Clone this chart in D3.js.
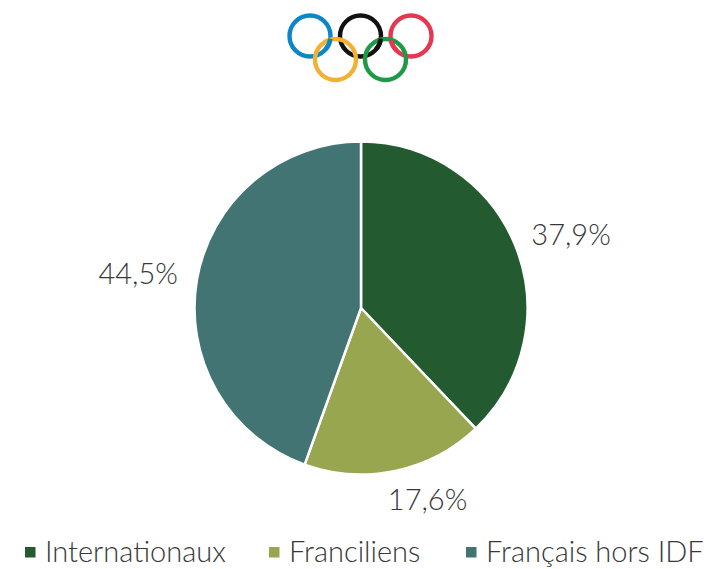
<!DOCTYPE html>
<html><head><meta charset="utf-8">
<script src="https://cdn.jsdelivr.net/npm/d3@7"></script>
<style>html,body{margin:0;padding:0;background:#fff;}svg{display:block;}</style>
</head><body>
<script>
const categories = ["Internationaux", "Franciliens", "Français hors IDF"];
const values = [37.9, 17.6, 44.5];
const valueLabels = ["37,9%", "17,6%", "44,5%"];
const colors = ["#245a2f", "#98a650", "#427473"];
const ringColors = ["#0b86c9", "#111111", "#e5374f", "#f4b033", "#1e9946"];

const W = 725, H = 569;
const svg = d3.select("body").append("svg").attr("width", W).attr("height", H);
const font = "Lato, 'Open Sans', sans-serif";
const fw = 300;
const textColor = "#383838";

// Olympic rings
const ringPos = [[310,36],[360.5,36],[411,36],[335.5,59.5],[385.5,59.5]];
const rings = svg.append("g");
rings.selectAll("circle").data(ringColors).join("circle")
  .attr("cx", (d,i)=>ringPos[i][0]).attr("cy", (d,i)=>ringPos[i][1])
  .attr("r", 20.5).attr("fill","none").attr("stroke", d=>d).attr("stroke-width", 4.4);
const arcSeg = d3.arc().innerRadius(18.3).outerRadius(22.7);
const over = [[0, 1.7, 2.3],[1, 1.7, 2.3],[2, 3.9, 4.5]];
over.forEach(([i,a0,a1])=>{
  rings.append("path").attr("d", arcSeg({startAngle:a0,endAngle:a1}))
    .attr("transform", `translate(${ringPos[i][0]},${ringPos[i][1]})`).attr("fill", ringColors[i]);
});

// Pie
const cx = 361, cy = 308, R = 166.5;
const pie = d3.pie().sort(null).value(d=>d)(values);
const arc = d3.arc().innerRadius(0).outerRadius(R);
const g = svg.append("g").attr("transform", `translate(${cx},${cy})`);
g.selectAll("path").data(pie).join("path")
  .attr("d", arc).attr("fill", (d,i)=>colors[i])
  .attr("stroke", "#fff").attr("stroke-width", 2.5).attr("stroke-linejoin","round");

// labels (outside end)
const labelR = R + 20;
const nudge = [[0,0],[20,0],[0,0]];
const fs = 29;
pie.forEach((d,i)=>{
  const a = (d.startAngle + d.endAngle)/2;
  const s = Math.sin(a), c = -Math.cos(a);
  const t = g.append("text").text(valueLabels[i])
    .attr("font-family", font).attr("font-weight", fw).attr("font-size", fs).attr("fill", textColor)
    .attr("text-anchor","middle");
  const w = t.node().getComputedTextLength();
  const h = 20;
  const x = labelR*s + (w/2)*s + nudge[i][0];
  const y = labelR*c + (h/2)*c + nudge[i][1];
  t.attr("x", x).attr("y", y + h/2);
});

// legend
const legendX = [25, 269, 466];
const lg = svg.append("g");
categories.forEach((name,i)=>{
  lg.append("rect").attr("x", legendX[i]).attr("y", 547).attr("width", 10.5).attr("height", 10.5).attr("fill", colors[i]);
  lg.append("text").attr("x", legendX[i]+20).attr("y", 562).text(name)
    .attr("font-family", font).attr("font-weight", fw).attr("font-size", 29).attr("fill", textColor);
});
</script>
</body></html>
